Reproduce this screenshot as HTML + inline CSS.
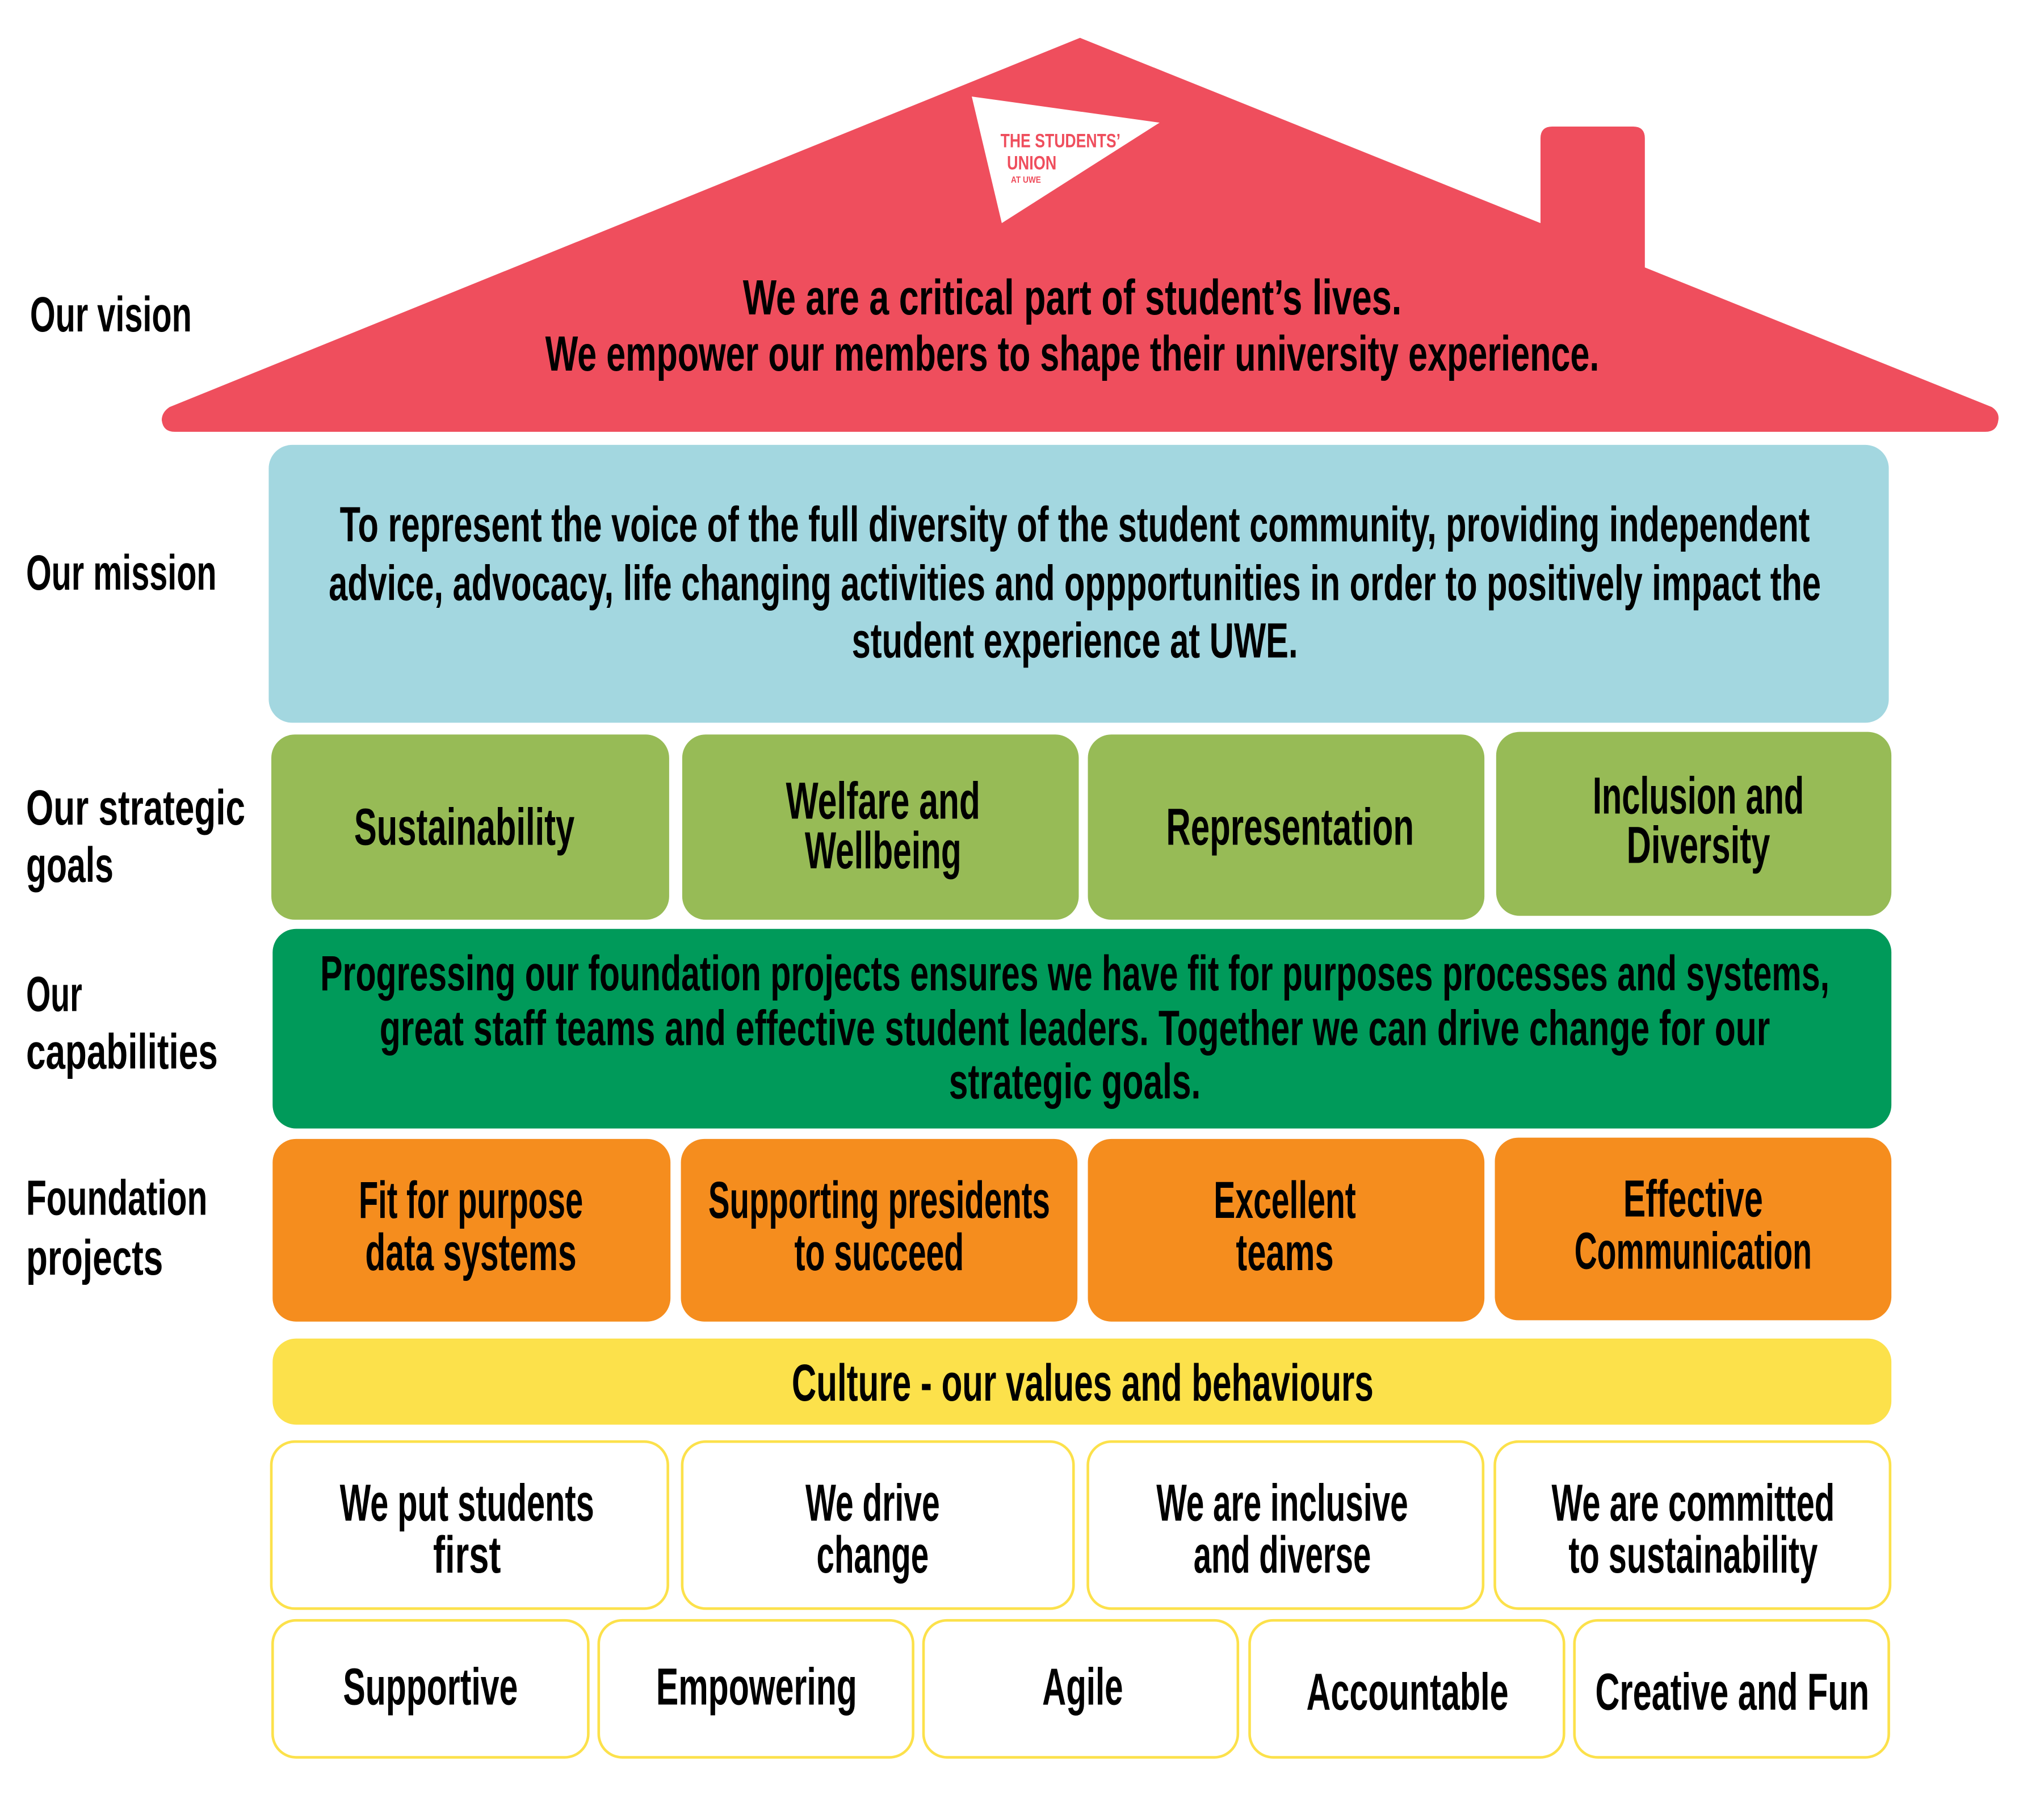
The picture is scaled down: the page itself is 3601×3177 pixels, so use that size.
<!DOCTYPE html>
<html><head><meta charset="utf-8"><style>
html,body{margin:0;padding:0;background:#fff}
svg{display:block}
text{font-family:"Liberation Sans Narrow","Liberation Sans",sans-serif;font-weight:bold;fill:#000;dominant-baseline:central;text-anchor:middle}
.l{text-anchor:start}
</style></head><body>
<svg width="3601" height="3177" viewBox="0 0 1567 1382" preserveAspectRatio="none" xmlns="http://www.w3.org/2000/svg">
<path d="M828 29 L1181 171 L1181 106 Q1181 97 1190 97 L1252 97 Q1261 97 1261 106 L1261 205 L1527 312 Q1533 316 1532 322 Q1531 331 1522 331 L134 331 Q125 331 124 322 Q124 316 130 312 Z" fill="#EF4E5D"/>
<polygon points="745,74 889,94 768,171" fill="#fff"/>
<text class="l" x="767" y="108" style="fill:#EF4E5D;font-size:15" textLength="92" lengthAdjust="spacingAndGlyphs">THE STUDENTS’</text>
<text class="l" x="772" y="125" style="fill:#EF4E5D;font-size:15" textLength="38" lengthAdjust="spacingAndGlyphs">UNION</text>
<text class="l" x="775" y="138" style="fill:#EF4E5D;font-size:7" textLength="23" lengthAdjust="spacingAndGlyphs">AT UWE</text>
<text x="822" y="228" style="font-size:38" textLength="505" lengthAdjust="spacingAndGlyphs">We are a critical part of student’s lives.</text>
<text x="822" y="271" style="font-size:38" textLength="808" lengthAdjust="spacingAndGlyphs">We empower our members to shape their university experience.</text>

<rect x="206" y="341" width="1242" height="213" rx="18" fill="#A3D7E0"/>
<text x="824" y="402" style="font-size:38" textLength="1127" lengthAdjust="spacingAndGlyphs">To represent the voice of the full diversity of the student community, providing independent</text>
<text x="824" y="447" style="font-size:38" textLength="1144" lengthAdjust="spacingAndGlyphs">advice, advocacy, life changing activities and oppportunities in order to positively impact the</text>
<text x="824" y="491" style="font-size:38" textLength="342" lengthAdjust="spacingAndGlyphs">student experience at UWE.</text>

<g fill="#97BB56">
<rect x="208" y="563" width="305" height="142" rx="18"/>
<rect x="523" y="563" width="304" height="142" rx="18"/>
<rect x="834" y="563" width="304" height="142" rx="18"/>
<rect x="1147" y="561" width="303" height="141" rx="18"/>
</g>
<text x="356" y="634" style="font-size:40" textLength="169" lengthAdjust="spacingAndGlyphs">Sustainability</text>
<text x="677" y="614" style="font-size:40" textLength="149" lengthAdjust="spacingAndGlyphs">Welfare and</text>
<text x="677" y="652" style="font-size:40" textLength="120" lengthAdjust="spacingAndGlyphs">Wellbeing</text>
<text x="989" y="634" style="font-size:40" textLength="190" lengthAdjust="spacingAndGlyphs">Representation</text>
<text x="1302" y="610" style="font-size:40" textLength="162" lengthAdjust="spacingAndGlyphs">Inclusion and</text>
<text x="1302" y="648" style="font-size:40" textLength="110" lengthAdjust="spacingAndGlyphs">Diversity</text>

<rect x="209" y="712" width="1241" height="153" rx="18" fill="#009A5A"/>
<text x="824" y="746" style="font-size:38" textLength="1157" lengthAdjust="spacingAndGlyphs">Progressing our foundation projects ensures we have fit for purposes processes and systems,</text>
<text x="824" y="788" style="font-size:38" textLength="1066" lengthAdjust="spacingAndGlyphs">great staff teams and effective student leaders. Together we can drive change for our</text>
<text x="824" y="829" style="font-size:38" textLength="193" lengthAdjust="spacingAndGlyphs">strategic goals.</text>

<g fill="#F58D1E">
<rect x="209" y="873" width="305" height="140" rx="18"/>
<rect x="522" y="873" width="304" height="140" rx="18"/>
<rect x="834" y="873" width="304" height="140" rx="18"/>
<rect x="1146" y="872" width="304" height="140" rx="18"/>
</g>
<text x="361" y="920" style="font-size:40" textLength="172" lengthAdjust="spacingAndGlyphs">Fit for purpose</text>
<text x="361" y="960" style="font-size:40" textLength="162" lengthAdjust="spacingAndGlyphs">data systems</text>
<text x="674" y="920" style="font-size:40" textLength="262" lengthAdjust="spacingAndGlyphs">Supporting presidents</text>
<text x="674" y="960" style="font-size:40" textLength="130" lengthAdjust="spacingAndGlyphs">to succeed</text>
<text x="985" y="920" style="font-size:40" textLength="109" lengthAdjust="spacingAndGlyphs">Excellent</text>
<text x="985" y="960" style="font-size:40" textLength="75" lengthAdjust="spacingAndGlyphs">teams</text>
<text x="1298" y="919" style="font-size:40" textLength="107" lengthAdjust="spacingAndGlyphs">Effective</text>
<text x="1298" y="959" style="font-size:40" textLength="182" lengthAdjust="spacingAndGlyphs">Communication</text>

<rect x="209" y="1026" width="1241" height="66" rx="18" fill="#FCE14B"/>
<text x="830" y="1060" style="font-size:40" textLength="446" lengthAdjust="spacingAndGlyphs">Culture - our values and behaviours</text>

<g fill="#fff" stroke="#FCE14B" stroke-width="2">
<rect x="208" y="1105" width="304" height="128" rx="18"/>
<rect x="523" y="1105" width="300" height="128" rx="18"/>
<rect x="834" y="1105" width="303" height="128" rx="18"/>
<rect x="1146" y="1105" width="303" height="128" rx="18"/>
<rect x="209" y="1242" width="242" height="105" rx="18"/>
<rect x="459" y="1242" width="241" height="105" rx="18"/>
<rect x="708" y="1242" width="241" height="105" rx="18"/>
<rect x="958" y="1242" width="241" height="105" rx="18"/>
<rect x="1207" y="1242" width="241" height="105" rx="18"/>
</g>
<text x="358" y="1152" style="font-size:40" textLength="195" lengthAdjust="spacingAndGlyphs">We put students</text>
<text x="358" y="1192" style="font-size:40" textLength="52" lengthAdjust="spacingAndGlyphs">first</text>
<text x="669" y="1152" style="font-size:40" textLength="103" lengthAdjust="spacingAndGlyphs">We drive</text>
<text x="669" y="1192" style="font-size:40" textLength="86" lengthAdjust="spacingAndGlyphs">change</text>
<text x="983" y="1152" style="font-size:40" textLength="193" lengthAdjust="spacingAndGlyphs">We are inclusive</text>
<text x="983" y="1192" style="font-size:40" textLength="136" lengthAdjust="spacingAndGlyphs">and diverse</text>
<text x="1298" y="1152" style="font-size:40" textLength="217" lengthAdjust="spacingAndGlyphs">We are committed</text>
<text x="1298" y="1192" style="font-size:40" textLength="191" lengthAdjust="spacingAndGlyphs">to sustainability</text>
<text x="330" y="1293" style="font-size:40" textLength="134" lengthAdjust="spacingAndGlyphs">Supportive</text>
<text x="580" y="1293" style="font-size:40" textLength="154" lengthAdjust="spacingAndGlyphs">Empowering</text>
<text x="830" y="1293" style="font-size:40" textLength="62" lengthAdjust="spacingAndGlyphs">Agile</text>
<text x="1079" y="1297" style="font-size:40" textLength="155" lengthAdjust="spacingAndGlyphs">Accountable</text>
<text x="1328" y="1297" style="font-size:40" textLength="210" lengthAdjust="spacingAndGlyphs">Creative and Fun</text>

<text class="l" x="23" y="241" style="font-size:38" textLength="124" lengthAdjust="spacingAndGlyphs">Our vision</text>
<text class="l" x="20" y="439" style="font-size:38" textLength="146" lengthAdjust="spacingAndGlyphs">Our mission</text>
<text class="l" x="20" y="619" style="font-size:38" textLength="168" lengthAdjust="spacingAndGlyphs">Our strategic</text>
<text class="l" x="20" y="663" style="font-size:38" textLength="67" lengthAdjust="spacingAndGlyphs">goals</text>
<text class="l" x="20" y="762" style="font-size:38" textLength="43" lengthAdjust="spacingAndGlyphs">Our</text>
<text class="l" x="20" y="806" style="font-size:38" textLength="147" lengthAdjust="spacingAndGlyphs">capabilities</text>
<text class="l" x="20" y="918" style="font-size:38" textLength="139" lengthAdjust="spacingAndGlyphs">Foundation</text>
<text class="l" x="20" y="964" style="font-size:38" textLength="105" lengthAdjust="spacingAndGlyphs">projects</text>
</svg>
</body></html>
